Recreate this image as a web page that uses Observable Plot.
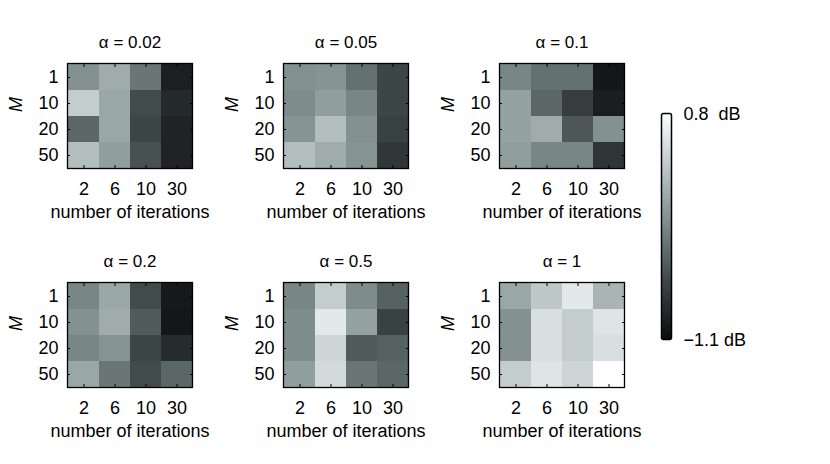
<!DOCTYPE html>
<html><head><meta charset="utf-8">
<script src="https://cdn.jsdelivr.net/npm/d3@7"></script>
<script src="https://cdn.jsdelivr.net/npm/@observablehq/plot@0.6"></script>
<style>
body{margin:0;background:#fff;}
#wrap{position:relative;width:830px;height:464px;font-family:"Liberation Sans",Arial,Helvetica,sans-serif;}
.p{position:absolute;}
</style></head><body><div id="wrap"></div>
<script>
const iterations = ["2", "6", "10", "30"];
const Ms = ["1", "10", "20", "50"];
const alphas = ["0.02", "0.05", "0.1", "0.2", "0.5", "1"];
// values in dB, rows = M (1,10,20,50), columns = iterations (2,6,10,30)
const db_a002 = [[-0.09, 0.13, -0.28, -0.94], [0.39, 0.09, -0.58, -0.86], [-0.39, 0.09, -0.62, -0.91], [0.28, 0.02, -0.54, -0.91]];
const db_a005 = [[-0.09, -0.06, -0.32, -0.62], [-0.13, 0.02, -0.17, -0.62], [-0.06, 0.28, -0.09, -0.65], [0.28, 0.13, -0.06, -0.74]];
const db_a01  = [[-0.17, -0.32, -0.32, -1.01], [0.05, -0.39, -0.69, -0.95], [0.05, 0.13, -0.50, -0.09], [0.02, -0.17, -0.17, -0.76]];
const db_a02  = [[-0.17, 0.09, -0.58, -0.99], [-0.09, 0.13, -0.47, -1.01], [-0.17, -0.06, -0.62, -0.84], [0.09, -0.28, -0.58, -0.39]];
const db_a05  = [[-0.17, 0.39, -0.13, -0.43], [-0.13, 0.61, 0.05, -0.65], [-0.13, 0.46, -0.47, -0.43], [0.02, 0.50, -0.28, -0.39]];
const db_a1   = [[0.09, 0.35, 0.61, 0.20], [-0.09, 0.54, 0.39, 0.58], [-0.09, 0.54, 0.39, 0.54], [0.39, 0.58, 0.46, 0.80]];
const panelValues = [db_a002, db_a005, db_a01, db_a02, db_a05, db_a1];
const colorDomain = [-1.1, 0.8];
const colorbarTicks = [0.8, -1.1];
const colorbarLabels = ["0.8\u00a0 dB", "\u22121.1 dB"];

const grayStops = ["#0b0c0c", "#3c4545", "#7b8989", "#b9c5c5", "#ffffff"];
const interp = d3.piecewise(d3.interpolateRgb, grayStops);
const FONT = '"Liberation Sans", Arial, Helvetica, sans-serif';
const wrap = document.getElementById("wrap");

function place(node, left, top) {
  const d = document.createElement("div");
  d.className = "p";
  d.style.left = left + "px";
  d.style.top = top + "px";
  d.appendChild(node);
  wrap.appendChild(d);
}

function panel(alpha, vals) {
  const data = [];
  Ms.forEach((m, i) => iterations.forEach((it, j) => data.push({m, it, v: vals[i][j]})));
  return Plot.plot({
    width: 216, height: 232,
    marginLeft: 67, marginRight: 24, marginTop: 63, marginBottom: 64,
    style: {fontFamily: FONT, fontSize: "18px", color: "#000", background: "transparent", overflow: "visible"},
    x: {domain: iterations, padding: 0, axis: null},
    y: {domain: Ms, padding: 0, axis: null},
    color: {type: "linear", domain: colorDomain, interpolate: interp, clamp: true},
    marks: [
      Plot.cell(data, {x: "it", y: "m", fill: "v", inset: 0}),
      Plot.axisX({anchor: "bottom", tickSize: 0, tickPadding: 14, fontSize: 18, label: null}),
      Plot.axisY({anchor: "left", tickSize: 0, tickPadding: 9, fontSize: 18, label: null}),
      Plot.axisX({anchor: "bottom", tickSize: -3, text: null, label: null, stroke: "#000"}),
      Plot.axisX({anchor: "top", tickSize: -3, text: null, label: null, stroke: "#000"}),
      Plot.axisY({anchor: "left", tickSize: -3, text: null, label: null, stroke: "#000"}),
      Plot.axisY({anchor: "right", tickSize: -3, text: null, label: null, stroke: "#000"}),
      Plot.frame({stroke: "#000", strokeWidth: 1.3}),
      Plot.text([`\u03b1 = ${alpha}`], {frameAnchor: "top", dy: -20.5, fontSize: 17, lineAnchor: "middle"}),
      Plot.text(["number of iterations"], {frameAnchor: "bottom", dy: 44, fontSize: 18, lineAnchor: "middle"}),
      Plot.text(["M"], {frameAnchor: "left", dx: -51, dy: -4, rotate: -90, fontSize: 18, fontStyle: "italic", lineAnchor: "middle"})
    ]
  });
}

alphas.forEach((a, k) => {
  const col = k % 3, row = Math.floor(k / 3);
  place(panel(a, panelValues[k]), 216 * col, row === 0 ? 0 : 219);
});

// colorbar
const nSteps = 200;
const steps = d3.range(nSteps + 1).map(i => colorDomain[0] + (colorDomain[1] - colorDomain[0]) * i / nSteps);
const bands = steps.slice(0, -1).map((s, i) => ({y1: s, y2: steps[i + 1], v: (s + steps[i + 1]) / 2}));
const cbLabels = colorbarTicks.map((t, i) => ({t, label: colorbarLabels[i]}));
const cb = Plot.plot({
  width: 230, height: 464,
  marginLeft: 61, marginRight: 159, marginTop: 113, marginBottom: 125,
  style: {fontFamily: FONT, fontSize: "18px", color: "#000", background: "transparent", overflow: "visible"},
  x: {domain: [0, 1], axis: null},
  y: {domain: colorDomain, axis: null},
  color: {type: "linear", domain: colorDomain, interpolate: interp},
  marks: [
    Plot.rect(bands, {x1: 0, x2: 1, y1: "y1", y2: "y2", fill: "v", inset: 0, shapeRendering: "crispEdges"}),
    Plot.frame({stroke: "#000", strokeWidth: 1.5, rx: 2}),
    Plot.text(cbLabels, {x: 1, y: "t", text: "label", dx: 12, dy: 1, textAnchor: "start", fontSize: 18, lineAnchor: "middle"})
  ]
});
place(cb, 600, 0);
</script></body></html>
